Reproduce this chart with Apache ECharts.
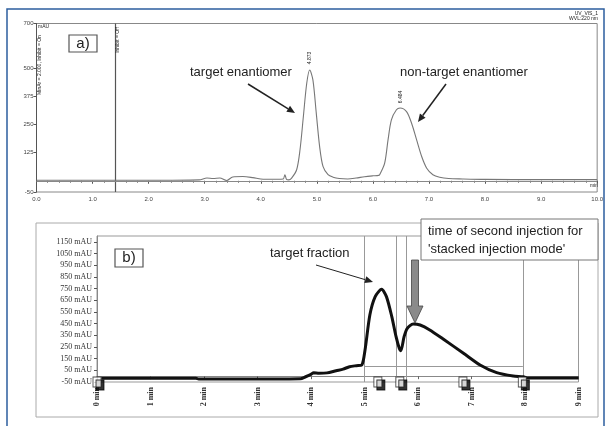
<!DOCTYPE html>
<html><head><meta charset="utf-8">
<script src="https://cdn.jsdelivr.net/npm/echarts@6/dist/echarts.min.js"></script>
<style>html,body{margin:0;padding:0;background:#fff}#c{width:606px;height:426px}</style>
</head><body><div id="c"></div>
<script>
// ---------- Panel a) analytical chromatogram ----------
const aTime   = [0, 1.0, 2.0, 2.9, 3.04, 3.15, 3.27, 3.39, 3.5, 3.68, 3.86, 4.0, 4.1, 4.3, 4.4, 4.43, 4.46, 4.5, 4.55, 4.64, 4.70, 4.76, 4.82, 4.873, 4.93, 4.99, 5.05, 5.11, 5.20, 5.29, 5.4, 5.55, 5.7, 5.85, 6.0, 6.1, 6.12, 6.21, 6.27, 6.33, 6.42, 6.484, 6.60, 6.69, 6.78, 6.87, 6.96, 7.07, 7.19, 7.35, 7.6, 8.0, 9.0, 10.0];
const aSignal = [2, 2, 2, 4, 12, 10, 12, 1, 17, 19, 14, 8, 7, 7, 8, 27, 6, 4, 12, 49, 138, 286, 434, 493, 449, 301, 152, 64, 27, 16, 10, 8, 12, 18, 22, 24, 27, 79, 182, 271, 316, 324, 308, 256, 182, 108, 56, 27, 16, 10, 8, 6, 5, 5];
const aYTicks = [-50, 125, 250, 375, 500, 700];
const aInjectTime = 1.40;
const aPeakLabels = ['4.873', '6.484'];

// ---------- Panel b) preparative chromatogram ----------
const bTime   = [0.08, 1.0, 1.85, 1.9, 3.0, 3.8, 3.9, 4.0, 4.05, 4.15, 4.3, 4.47, 4.6, 4.72, 4.85, 4.95, 5.01, 5.10, 5.20, 5.32, 5.41, 5.51, 5.59, 5.65, 5.68, 5.74, 5.80, 5.91, 6.04, 6.22, 6.47, 6.85, 7.16, 7.47, 7.78, 7.97, 8.05, 9.0];
const bSignal = [-18, -18, -18, -24, -24, -22, -5, 15, 30, 25, 28, 47, 60, 81, 90, 96, 224, 524, 681, 744, 681, 510, 338, 239, 218, 338, 410, 447, 438, 396, 318, 196, 96, 30, 1, -5, -16, -16];
const bYTicks = [-50, 50, 150, 250, 350, 450, 550, 650, 750, 850, 950, 1050, 1150];
const bFractionTimes = [0, 5.25, 5.66, 6.84, 7.95];
const bWindowLines = [5, 5.59, 5.78, 7.96];
const bThreshold = 87;

const SANS = '"Liberation Sans", Arial, sans-serif';
const SERIF = '"Liberation Serif", "Times New Roman", serif';

function arrow(x1, y1, x2, y2, w, color) {
  const ang = Math.atan2(y2 - y1, x2 - x1);
  const hl = 8, hw = 3.5;
  const bx = x2 - hl * Math.cos(ang), by = y2 - hl * Math.sin(ang);
  const px = -Math.sin(ang) * hw, py = Math.cos(ang) * hw;
  return [
    {type: 'line', shape: {x1: x1, y1: y1, x2: bx, y2: by}, style: {stroke: color, lineWidth: w}, z: 100},
    {type: 'polygon', shape: {points: [[x2, y2], [bx + px, by + py], [bx - px, by - py]]}, style: {fill: color}, z: 100}
  ];
}
function txt(t, x, y, font, opts) {
  return Object.assign({type: 'text', x: x, y: y, z: 100,
    style: Object.assign({text: t, font: font, fill: '#222', textAlign: 'left', textVerticalAlign: 'middle'}, (opts && opts.style) || {})},
    (opts && opts.el) || {});
}

const chart = echarts.init(document.getElementById('c'));
const graphics = [
  {type: 'rect', shape: {x: 7, y: 9, width: 597, height: 425}, style: {fill: 'none', stroke: '#2d5e9e', lineWidth: 1.5}, z: 90},
  {type: 'rect', shape: {x: 36, y: 223, width: 562, height: 194}, style: {fill: 'none', stroke: '#aaa', lineWidth: 1}, z: 1},
  // a) label
  {type: 'rect', shape: {x: 69, y: 35, width: 28, height: 17}, style: {fill: '#fff', stroke: '#555', lineWidth: 1.2}, z: 100},
  txt('a)', 83, 44, '15px ' + SANS, {style: {textAlign: 'center'}}),
  // b) label
  {type: 'rect', shape: {x: 115, y: 249, width: 28, height: 18}, style: {fill: '#fff', stroke: '#555', lineWidth: 1.2}, z: 100},
  txt('b)', 129, 258, '15px ' + SANS, {style: {textAlign: 'center'}}),
  // a) annotations
  txt('target enantiomer', 190, 72, '13px ' + SANS),
  txt('non-target enantiomer', 400, 72, '13px ' + SANS),
  ...arrow(248, 84, 295, 113, 1.5, '#222'),
  ...arrow(446, 84, 418, 122, 1.5, '#222'),
  txt(aPeakLabels[0], 310, 58, '5px ' + SANS, {el: {rotation: Math.PI / 2}, style: {textAlign: 'center'}}),
  txt(aPeakLabels[1], 401, 97, '5px ' + SANS, {el: {rotation: Math.PI / 2}, style: {textAlign: 'center'}}),
  txt('UV_VIS_1', 598, 14, '5px ' + SANS, {style: {textAlign: 'right'}}),
  txt('WVL:220 nm', 598, 19, '5px ' + SANS, {style: {textAlign: 'right'}}),
  txt('min', 598, 186, '5px ' + SANS, {style: {textAlign: 'right'}}),
  txt('mAU', 38, 27, '5px ' + SANS),
  txt('MinAr = 2.000, Inhibit = On', 40, 65, '5px ' + SANS, {el: {rotation: Math.PI / 2}, style: {textAlign: 'center'}}),
  txt('Inhibit = Off', 118, 40, '5px ' + SANS, {el: {rotation: Math.PI / 2}, style: {textAlign: 'center'}}),
  // b) annotations
  txt('target fraction', 270, 253, '13px ' + SANS),
  ...arrow(316, 265, 373, 282, 1, '#222'),
  {type: 'rect', shape: {x: 421, y: 219, width: 177, height: 41}, style: {fill: '#fff', stroke: '#777', lineWidth: 1}, z: 95},
  txt('time of second injection for', 428, 231, '13px ' + SANS),
  txt("'stacked injection mode'", 428, 249, '13px ' + SANS),
  {type: 'polygon', shape: {points: [[411.5, 260], [418.5, 260], [418.5, 306], [423, 306], [415, 323], [407, 306], [411.5, 306]]},
   style: {fill: '#8a8a8a', stroke: '#444', lineWidth: 0.8}, z: 100}
];

const option = {
  animation: false,
  backgroundColor: '#fff',
  grid: [
    {left: 36.5, top: 23.5, width: 561, height: 168.5, show: true, borderColor: '#888', borderWidth: 1},
    {left: 97, top: 236, width: 481.5, height: 146, show: true, borderColor: '#999', borderWidth: 1}
  ],
  xAxis: [
    {gridIndex: 0, type: 'value', min: 0, max: 10, interval: 1,
     axisLine: {show: true, lineStyle: {color: '#555'}},
     axisTick: {show: true, length: 3, lineStyle: {color: '#555'}},
     minorTick: {show: true, splitNumber: 5, length: 2, lineStyle: {color: '#777'}},
     splitLine: {show: false},
     axisLabel: {fontSize: 6, color: '#444', margin: 4, fontFamily: SANS, formatter: v => v.toFixed(1)}},
    {gridIndex: 1, type: 'value', min: 0, max: 9, interval: 1,
     axisLine: {show: true, lineStyle: {color: '#888'}},
     axisTick: {show: true, length: 3, inside: false, lineStyle: {color: '#666'}},
     splitLine: {show: false},
     axisLabel: {rotate: 90, fontSize: 8, fontWeight: 'bold', color: '#333', margin: 5, fontFamily: SERIF, formatter: v => v + ' min'}}
  ],
  yAxis: [
    {gridIndex: 0, type: 'value', min: -50, max: 700,
     axisLine: {show: true, lineStyle: {color: '#555'}},
     axisTick: {show: true, length: 3, customValues: aYTicks, lineStyle: {color: '#555'}},
     splitLine: {show: false},
     axisLabel: {fontSize: 6, color: '#444', margin: 3, fontFamily: SANS, customValues: aYTicks, formatter: v => String(v)}},
    {gridIndex: 1, type: 'value', min: -50, max: 1200,
     axisLine: {show: true, lineStyle: {color: '#888'}},
     axisTick: {show: true, length: 3, customValues: bYTicks, lineStyle: {color: '#555'}},
     splitLine: {show: false},
     axisLabel: {fontSize: 8, color: '#333', margin: 5, fontFamily: SERIF, customValues: bYTicks, formatter: v => v + ' mAU'}}
  ],
  series: [
    {type: 'line', xAxisIndex: 0, yAxisIndex: 0, data: aTime.map((t, i) => [t, aSignal[i]]),
     showSymbol: false, smooth: 0.3, lineStyle: {color: '#777', width: 1.1}, z: 5,
     markLine: {silent: true, symbol: 'none', label: {show: false},
       data: [
         {xAxis: aInjectTime, lineStyle: {color: '#555', width: 1.2, type: 'solid'}},
         {yAxis: 0, lineStyle: {color: '#888', width: 1, type: 'solid'}}
       ]}},
    {type: 'line', xAxisIndex: 1, yAxisIndex: 1, data: bTime.map((t, i) => [t, bSignal[i]]),
     showSymbol: false, smooth: 0.25, lineStyle: {color: '#111', width: 3}, z: 5,
     markLine: {silent: true, symbol: 'none', label: {show: false},
       lineStyle: {color: '#999', width: 1, type: 'solid'},
       data: bWindowLines.map(v => ({xAxis: v})).concat([
         [{coord: [bWindowLines[0], bThreshold]}, {coord: [bWindowLines[3], bThreshold]}]
       ])}},
    {type: 'scatter', xAxisIndex: 1, yAxisIndex: 1, data: bFractionTimes.map(t => [t, -50]),
     symbol: 'rect', symbolSize: [8, 10], clip: false, z: 10,
     itemStyle: {color: '#fff', borderColor: '#222', borderWidth: 1, shadowColor: '#000', shadowOffsetX: 3, shadowOffsetY: 3, shadowBlur: 0}}
  ],
  graphic: graphics
};
chart.setOption(option);
</script>
</body></html>
